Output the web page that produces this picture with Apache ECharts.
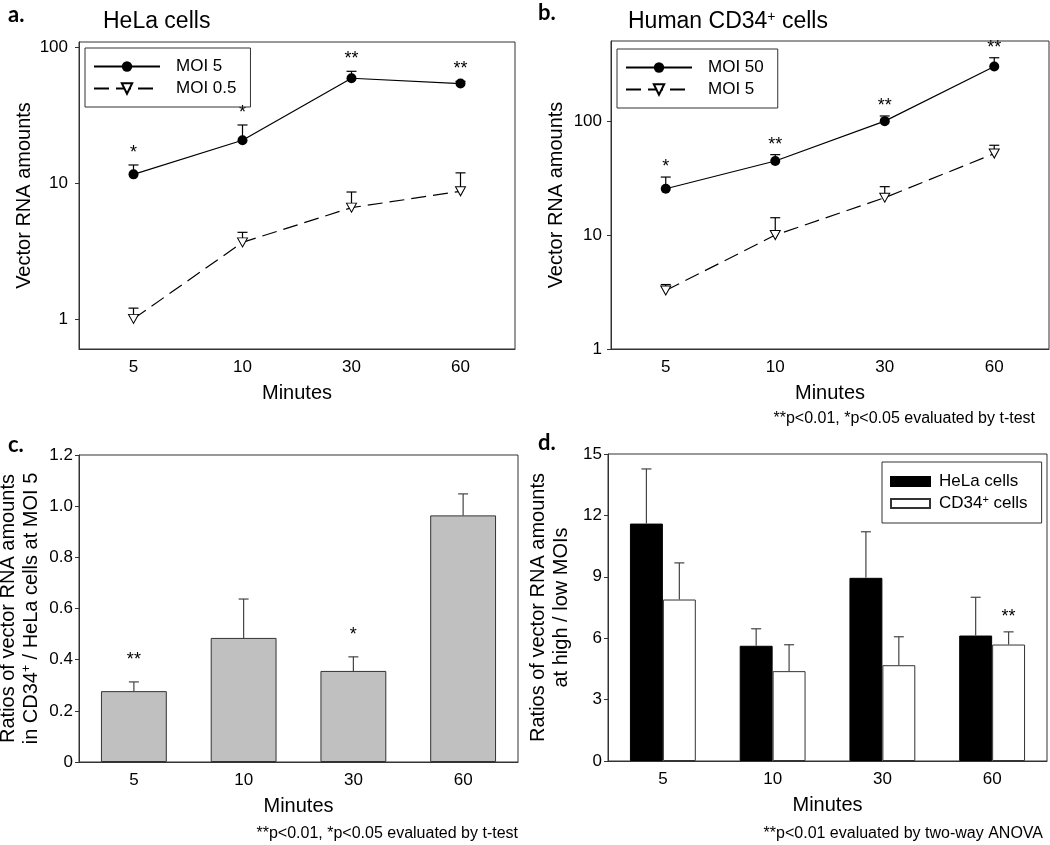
<!DOCTYPE html>
<html>
<head>
<meta charset="utf-8">
<script src="https://cdn.jsdelivr.net/npm/echarts@6/dist/echarts.min.js"></script>
<style>
html,body{margin:0;padding:0;background:#fff;}
#chart{width:1050px;height:845px;}
</style>
</head>
<body>
<div id="chart"></div>
<script>
// ---------- data ----------
const minutes = ['5', '10', '30', '60'];

// a. HeLa cells (vector RNA amounts, mean and mean+error)
const helaMOI5 = [11.6, 20.7, 59.2, 54.1];
const helaMOI5Err = [13.6, 26.8, 66.6, 56.2];
const helaMOI5Stars = ['*', '*', '**', '**'];
const helaMOI05 = [1.0, 3.66, 6.6, 8.7];
const helaMOI05Err = [1.2, 4.34, 8.6, 11.9];

// b. Human CD34+ cells
const cd34MOI50 = [25.5, 44.7, 100, 302];
const cd34MOI50Err = [32.3, 50.8, 111, 360];
const cd34MOI50Stars = ['*', '**', '**', '**'];
const cd34MOI5 = [3.26, 10.0, 21.3, 51.9];
const cd34MOI5Err = [3.68, 14.2, 26.6, 61.4];

// c. Ratios CD34+ / HeLa at MOI 5
const ratioCells = [0.277, 0.485, 0.356, 0.964];
const ratioCellsErr = [0.313, 0.637, 0.411, 1.048];
const ratioCellsStars = ['**', '', '*', ''];

// d. Ratios high / low MOIs
const ratioHela = [11.6, 5.63, 8.95, 6.13];
const ratioHelaErr = [14.27, 6.46, 11.2, 8.0];
const ratioCd34 = [7.89, 4.39, 4.68, 5.69];
const ratioCd34Err = [9.68, 5.68, 6.07, 6.31];
const ratioCd34Stars = ['', '', '', '**'];

const logTicksA = [1, 10, 100];
const logTicksB = [1, 10, 100];

// ---------- helpers ----------
const FONT = "'Liberation Sans', Arial, sans-serif";
const supRich = { sup: { fontSize: 11, fontFamily: FONT, color: '#000', padding: [0, 0, 8, 0] } };

function errItems(vals, errs) {
  return vals.map((v, i) => [i, v, errs[i]]);
}
function errRender(offsetFrac, stars, starOffset, color) {
  return function (params, api) {
    const i = api.value(0), v = api.value(1), e = api.value(2);
    const bw = api.size([1, 1], [i, v])[0];
    const p0 = api.coord([i, v]);
    const p1 = api.coord([i, e]);
    const x = p0[0] + offsetFrac * bw;
    const children = [
      { type: 'line', shape: { x1: x, y1: p0[1], x2: x, y2: p1[1] }, style: { stroke: color, lineWidth: 1.2 } },
      { type: 'line', shape: { x1: x - 5, y1: p1[1], x2: x + 5, y2: p1[1] }, style: { stroke: color, lineWidth: 1.2 } }
    ];
    const s = stars ? stars[params.dataIndex] : '';
    if (s) {
      children.push({ type: 'text', style: { text: s, x: x, y: p1[1] - starOffset, align: 'center', verticalAlign: 'middle', font: '18px ' + FONT, fill: '#000' } });
    }
    return { type: 'group', children: children };
  };
}

function catAxis(gridIndex, nameGap) {
  return {
    type: 'category', gridIndex: gridIndex, data: minutes, boundaryGap: true,
    name: 'Minutes', nameLocation: 'middle', nameGap: nameGap,
    nameTextStyle: { fontSize: 20, fontFamily: FONT, color: '#000' },
    axisLine: { show: true, lineStyle: { color: '#333', width: 1 } },
    axisTick: { show: false },
    axisLabel: { fontSize: 17, fontFamily: FONT, color: '#000', margin: 10 },
    splitLine: { show: false }
  };
}
function axisCommon(extra) {
  return Object.assign({
    nameLocation: 'middle',
    nameTextStyle: { fontSize: 20, fontFamily: FONT, color: '#000', lineHeight: 23, rich: { sup: { fontSize: 12, fontFamily: FONT, color: '#000', padding: [0, 0, 9, 0] } } },
    axisLine: { show: true, lineStyle: { color: '#333', width: 1 } },
    splitLine: { show: false }
  }, extra);
}

const gridStyle = { show: true, borderColor: '#333', borderWidth: 1, backgroundColor: 'transparent', outerBoundsMode: 'none', containLabel: false };

const option = {
  animation: false,
  backgroundColor: '#fff',
  grid: [
    Object.assign({ left: 79, top: 42, width: 436, height: 307 }, gridStyle),
    Object.assign({ left: 611, top: 41, width: 438, height: 308 }, gridStyle),
    Object.assign({ left: 79, top: 455, width: 439, height: 307 }, gridStyle),
    Object.assign({ left: 608, top: 454, width: 439, height: 307 }, gridStyle)
  ],
  xAxis: [catAxis(0, 34), catAxis(1, 34), catAxis(2, 34), catAxis(3, 34)],
  yAxis: [
    axisCommon({
      type: 'log', gridIndex: 0, logBase: 10, min: 0.6, max: 109.5,
      name: 'Vector RNA amounts', nameGap: 36,
      axisTick: { show: true, inside: false, length: 4, customValues: logTicksA, lineStyle: { color: '#333' } },
      axisLabel: { fontSize: 17, fontFamily: FONT, color: '#000', margin: 11, customValues: logTicksA }
    }),
    axisCommon({
      type: 'log', gridIndex: 1, logBase: 10, min: 1, max: 505,
      name: 'Vector RNA amounts', nameGap: 43,
      axisTick: { show: true, inside: false, length: 4, customValues: logTicksB, lineStyle: { color: '#333' } },
      axisLabel: { fontSize: 17, fontFamily: FONT, color: '#000', margin: 9, customValues: logTicksB }
    }),
    axisCommon({
      type: 'value', gridIndex: 2, min: 0, max: 1.2, interval: 0.2,
      name: 'Ratios of vector RNA amounts\nin CD34{sup|+} / HeLa cells at MOI 5', nameGap: 36,
      axisTick: { show: true, inside: false, length: 4, lineStyle: { color: '#333' } },
      axisLabel: { fontSize: 17, fontFamily: FONT, color: '#000', margin: 6, formatter: v => v === 0 ? '0' : v.toFixed(1) }
    }),
    axisCommon({
      type: 'value', gridIndex: 3, min: 0, max: 15, interval: 3,
      name: 'Ratios of vector RNA amounts\nat high / low MOIs', nameGap: 35,
      axisTick: { show: true, inside: false, length: 4, lineStyle: { color: '#333' } },
      axisLabel: { fontSize: 17, fontFamily: FONT, color: '#000', margin: 6 }
    })
  ],
  legend: [
    {
      data: ['MOI 5', 'MOI 0.5'], orient: 'vertical', left: 85, top: 48,
      padding: [10, 14, 10, 8], itemGap: 5, itemWidth: 66, itemHeight: 13,
      borderColor: '#333', borderWidth: 1, borderRadius: 0, selectedMode: false,
      textStyle: { fontSize: 17, fontFamily: FONT, color: '#000', padding: [0, 0, 0, 11] }
    },
    {
      data: ['MOI 50', 'MOI 5 '], orient: 'vertical', left: 617, top: 49,
      padding: [10, 14, 10, 8], itemGap: 5, itemWidth: 66, itemHeight: 13,
      borderColor: '#333', borderWidth: 1, borderRadius: 0, selectedMode: false,
      textStyle: { fontSize: 17, fontFamily: FONT, color: '#000', padding: [0, 0, 0, 11] }
    },
    {
      data: ['HeLa cells', 'CD34+ cells'], orient: 'vertical', left: 882, top: 462,
      padding: [11, 14, 11, 8], itemGap: 4, itemWidth: 39, itemHeight: 9, icon: 'rect',
      borderColor: '#333', borderWidth: 1, borderRadius: 0, selectedMode: false,
      formatter: n => n === 'CD34+ cells' ? 'CD34{sup|+} cells' : n,
      textStyle: { fontSize: 17, fontFamily: FONT, color: '#000', padding: [0, 0, 0, 4], rich: supRich }
    }
  ],
  series: [
    // ----- a -----
    { type: 'custom', name: 'errA1', xAxisIndex: 0, yAxisIndex: 0, data: errItems(helaMOI5, helaMOI5Err), renderItem: errRender(0, helaMOI5Stars, 12, '#000'), z: 1 },
    { type: 'custom', name: 'errA2', xAxisIndex: 0, yAxisIndex: 0, data: errItems(helaMOI05, helaMOI05Err), renderItem: errRender(0, null, 12, '#000'), z: 1 },
    {
      type: 'line', name: 'MOI 5', xAxisIndex: 0, yAxisIndex: 0, data: helaMOI5,
      symbol: 'circle', symbolSize: 10, itemStyle: { color: '#000' },
      lineStyle: { color: '#000', width: 1.2 }, z: 3
    },
    {
      type: 'line', name: 'MOI 0.5', xAxisIndex: 0, yAxisIndex: 0, data: helaMOI05,
      symbol: 'triangle', symbolRotate: 180, symbolSize: [10, 9],
      itemStyle: { color: '#fff', borderColor: '#000', borderWidth: 1 },
      lineStyle: { color: '#000', width: 1.2, type: [15, 7] }, z: 3
    },
    // ----- b -----
    { type: 'custom', name: 'errB1', xAxisIndex: 1, yAxisIndex: 1, data: errItems(cd34MOI50, cd34MOI50Err), renderItem: errRender(0, cd34MOI50Stars, 10, '#000'), z: 1 },
    { type: 'custom', name: 'errB2', xAxisIndex: 1, yAxisIndex: 1, data: errItems(cd34MOI5, cd34MOI5Err), renderItem: errRender(0, null, 10, '#000'), z: 1 },
    {
      type: 'line', name: 'MOI 50', xAxisIndex: 1, yAxisIndex: 1, data: cd34MOI50,
      symbol: 'circle', symbolSize: 10, itemStyle: { color: '#000' },
      lineStyle: { color: '#000', width: 1.2 }, z: 3
    },
    {
      type: 'line', name: 'MOI 5 ', xAxisIndex: 1, yAxisIndex: 1, data: cd34MOI5,
      symbol: 'triangle', symbolRotate: 180, symbolSize: [10, 9],
      itemStyle: { color: '#fff', borderColor: '#000', borderWidth: 1 },
      lineStyle: { color: '#000', width: 1.2, type: [15, 7] }, z: 3
    },
    // ----- c -----
    {
      type: 'bar', name: 'ratio', xAxisIndex: 2, yAxisIndex: 2, data: ratioCells, barWidth: '60%',
      itemStyle: { color: '#c0c0c0', borderColor: '#333', borderWidth: 1 }, z: 2
    },
    { type: 'custom', name: 'errC', xAxisIndex: 2, yAxisIndex: 2, data: errItems(ratioCells, ratioCellsErr), renderItem: errRender(0, ratioCellsStars, 22, '#444'), z: 3 },
    // ----- d -----
    {
      type: 'bar', name: 'HeLa cells', xAxisIndex: 3, yAxisIndex: 3, data: ratioHela, barWidth: '30%', barGap: '0%',
      itemStyle: { color: '#000', borderColor: '#000', borderWidth: 1 }, z: 2
    },
    {
      type: 'bar', name: 'CD34+ cells', xAxisIndex: 3, yAxisIndex: 3, data: ratioCd34, barWidth: '30%', barGap: '0%',
      itemStyle: { color: '#fff', borderColor: '#333', borderWidth: 1 }, z: 2
    },
    { type: 'custom', name: 'errD1', xAxisIndex: 3, yAxisIndex: 3, data: errItems(ratioHela, ratioHelaErr), renderItem: errRender(-0.15, null, 15, '#444'), z: 3 },
    { type: 'custom', name: 'errD2', xAxisIndex: 3, yAxisIndex: 3, data: errItems(ratioCd34, ratioCd34Err), renderItem: errRender(0.15, ratioCd34Stars, 15, '#444'), z: 3 }
  ],
  graphic: [
    { type: 'text', left: 8, top: 4, style: { text: 'a.', font: 'bold 22px Lato, sans-serif', fill: '#000' } },
    { type: 'text', left: 538, top: 2, style: { text: 'b.', font: 'bold 22px Lato, sans-serif', fill: '#000' } },
    { type: 'text', left: 8, top: 434, style: { text: 'c.', font: 'bold 22px Lato, sans-serif', fill: '#000' } },
    { type: 'text', left: 538, top: 432, style: { text: 'd.', font: 'bold 22px Lato, sans-serif', fill: '#000' } },
    { type: 'text', left: 103, top: 10, style: { text: 'HeLa cells', font: '23px ' + FONT, fill: '#000' } },
    { type: 'text', left: 628, top: 10, style: { text: 'Human CD34{sup|+} cells', font: '23px ' + FONT, fill: '#000', rich: { sup: { fontSize: 14, fontFamily: FONT, fill: '#000', padding: [0, 0, 10, 0] } } } },
    { type: 'text', right: 15, top: 411, style: { text: '**p<0.01, *p<0.05 evaluated by t-test', font: '16px ' + FONT, fill: '#000' } },
    { type: 'text', right: 532, top: 826, style: { text: '**p<0.01, *p<0.05 evaluated by t-test', font: '16px ' + FONT, fill: '#000' } },
    { type: 'text', right: 7, top: 826, style: { text: '**p<0.01 evaluated by two-way ANOVA', font: '16px ' + FONT, fill: '#000' } }
  ]
};

const chart = echarts.init(document.getElementById('chart'), null, { renderer: 'canvas' });
chart.setOption(option);
</script>
</body>
</html>
